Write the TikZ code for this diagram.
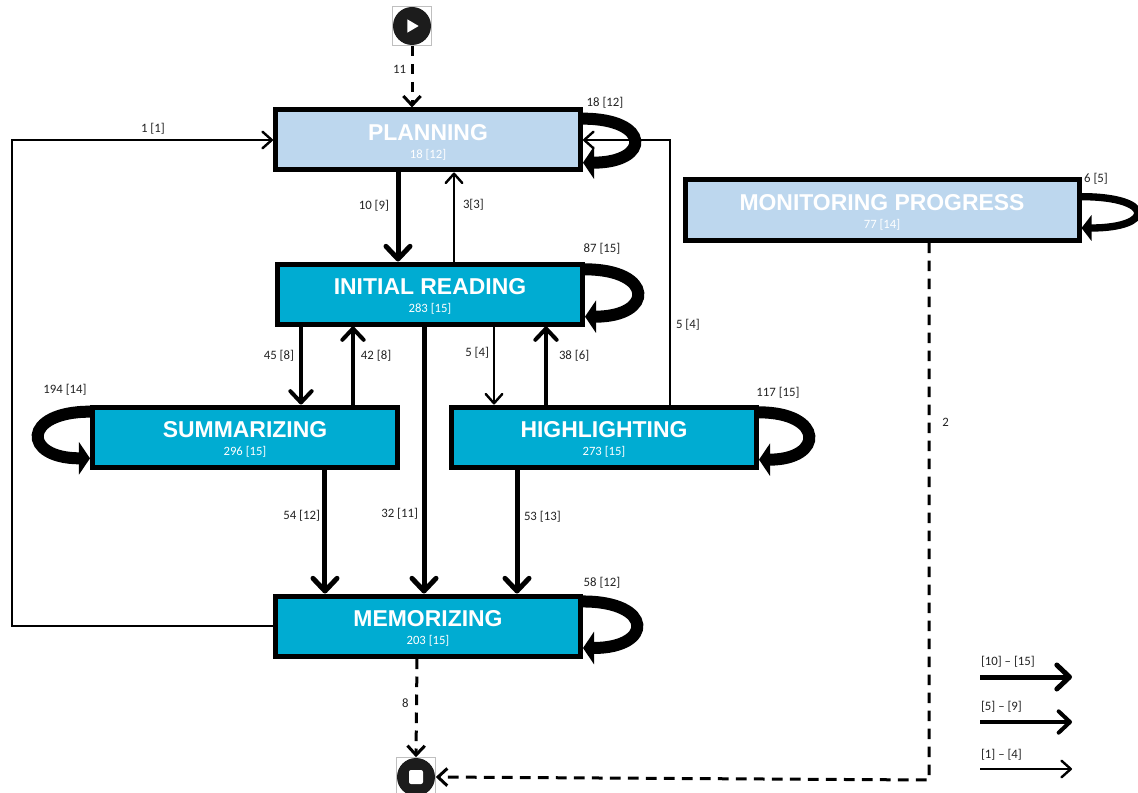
\documentclass[tikz,border=0pt]{standalone}
\usepackage{fontspec}
\setmainfont{Carlito}
\newfontfamily\titlefont{Liberation Sans}[Scale=1]
\usetikzlibrary{arrows.meta,positioning}

\definecolor{palebox}{HTML}{BDD7EE}
\definecolor{tealbox}{HTML}{00ACD2}
\definecolor{iconblack}{HTML}{1C1C1C}
\definecolor{labelgrey}{HTML}{222222}
\newcommand{\boxtext}[2]{\rule{0pt}{15.5pt}{\fontsize{17.2}{20}\titlefont\bfseries #1}\\[1.75pt]{\fontsize{9.5}{11}\selectfont #2}}

\tikzset{
  stage/.style={draw=black,line width=3.75pt,minimum width=228.75pt,minimum height=45pt,
    inner sep=0pt,align=center,text=white},
  teal stage/.style={stage,fill=tealbox},
  pale stage/.style={stage,fill=palebox},
  icon/.style={draw=black!25,line width=.4pt,minimum size=29.25pt,inner sep=0pt},
  flow label/.style={font=\fontsize{9.6}{11}\selectfont,text=labelgrey,inner sep=0pt,outer sep=0pt},
  thick flow/.style={line width=3.75pt,-{Straight Barb[length=9.5pt,width=18pt,round]}},
  mid flow/.style={line width=3pt,-{Straight Barb[length=8.5pt,width=16pt,round]}},
  thin flow/.style={line width=1.8pt,-{Straight Barb[length=7pt,width=12.5pt,round]}},
  dash flow/.style={line width=2.25pt,dash pattern=on 8pt off 5.5pt,-{Straight Barb[length=7pt,width=13pt]}},
  loop flow/.style={line width=9pt,-{Triangle[length=8.25pt,width=24pt]}},
  small loop/.style={line width=5.5pt,-{Triangle[length=7.5pt,width=19pt]}},
}

\begin{document}
\begin{tikzpicture}[x=.75pt,y=.75pt,on grid,node distance=50pt]
   \useasboundingbox (-321pt,105pt) rectangle (532.5pt,-489pt);
   \node[pale stage] (planning) {\boxtext{PLANNING}{18 [12]}};
   \node[teal stage] (initial) [below right=115.5pt and 1.5pt of planning] {\boxtext{INITIAL READING}{283 [15]}};
   \node[teal stage] (summarizing) [below left=107.25pt and 138.75pt of initial] {\boxtext{SUMMARIZING}{296 [15]}};
   \node[teal stage] (highlighting) [below right=107.25pt and 130.5pt of initial] {\boxtext{HIGHLIGHTING}{273 [15]}};
   \node[teal stage] (memorizing) [below=364.5pt of planning] {\boxtext{MEMORIZING}{203 [15]}};
   \node[pale stage,minimum width=295.5pt] (monitoring) [below right=52.5pt and 340.5pt of planning] {\boxtext{MONITORING PROGRESS}{77 [14]}};

   \node[icon] (start) [above left=85.5pt and 12pt of planning] {};
   \node[icon] (stop) [below left=113.25pt and 9pt of memorizing] {};
   \fill[iconblack] (start.center) circle (14.25pt);
   \fill[white] ([xshift=-3.5pt,yshift=5pt]start.center) -- ([xshift=5pt]start.center) -- ([xshift=-3.5pt,yshift=-5pt]start.center) -- cycle;
   \fill[iconblack] (stop.center) circle (14.25pt);
   \fill[white,rounded corners=1.5pt] ([xshift=-5.25pt,yshift=-5.25pt]stop.center) rectangle ([xshift=5.25pt,yshift=5.25pt]stop.center);

   \coordinate[left=195.75pt of memorizing.west] (leftrail);
   \coordinate[above=364.5pt of leftrail] (lefttop);
   \coordinate[right=65.25pt of planning.east] (righttop);
   \coordinate[below right=427.5pt and 35.25pt of monitoring] (stopcorner);

   % main flows
   \draw[thick flow] ([xshift=-22.5pt]planning.south) -- node[flow label,left=6.75pt,pos=.37] {10 [9]} ([xshift=-24pt]initial.north);
   \draw[thin flow] ([xshift=18pt]initial.north) -- node[flow label,right=6.75pt,pos=.64] {3[3]} ([xshift=19.5pt]planning.south);
   \draw[mid flow] ([xshift=-96.75pt]initial.south) -- node[flow label,left=5.25pt,pos=.38] {45 [8]} ([xshift=42pt]summarizing.north);
   \draw[mid flow] ([xshift=81pt]summarizing.north) -- node[flow label,right=6pt,pos=.62] {42 [8]} ([xshift=-57.75pt]initial.south);
   \draw[thick flow] ([xshift=-4.5pt]initial.south) -- node[flow label,left=4.5pt,pos=.7] {32 [11]} ([xshift=-3pt]memorizing.north);
   \draw[thin flow] ([xshift=48pt]initial.south) -- node[flow label,left=3.75pt,pos=.34] {5 [4]} ([xshift=-82.5pt]highlighting.north);
   \draw[mid flow] ([xshift=-43.5pt]highlighting.north) -- node[flow label,right=9.75pt,pos=.63] {38 [6]} ([xshift=87pt]initial.south);
   \draw[thick flow] ([xshift=60pt]summarizing.south) -- node[flow label,left=3.75pt,pos=.37] {54 [12]} ([xshift=-77.25pt]memorizing.north);
   \draw[thick flow] ([xshift=-65.25pt]highlighting.south) -- node[flow label,right=5.25pt,pos=.38] {53 [13]} ([xshift=66.75pt]memorizing.north);

   % long way round
   \draw[thin flow] (memorizing.west) -- (leftrail) -- (lefttop) -- node[flow label,above=4.5pt,pos=.54] {1 [1]} (planning.west);

   % start and end
   \draw[dash flow] (start.south) -- node[flow label,left=4.5pt,pos=.39] {11} ([xshift=-12pt]planning.north);
   \draw[dash flow] ([xshift=-8.25pt]memorizing.south) -- node[flow label,left=6pt,pos=.45] {8} (stop.north);
   \draw[dash flow] ([xshift=35.25pt]monitoring.south) -- node[flow label,right=10pt,pos=.335] {2} (stopcorner) -- (stop.east);

   % loops
   \draw[loop flow] ([yshift=16pt]planning.east) .. controls +(51pt,0pt) and +(51pt,0pt) .. ([yshift=-17pt]planning.east);
   \draw[loop flow] ([yshift=18.5pt]initial.east) .. controls +(52pt,0pt) and +(52pt,0pt) .. ([yshift=-17pt]initial.east);
   \draw[loop flow] ([yshift=18.5pt]highlighting.east) .. controls +(49pt,0pt) and +(49pt,0pt) .. ([yshift=-17pt]highlighting.east);
   \draw[loop flow] ([yshift=18.4pt]memorizing.east) .. controls +(53pt,0pt) and +(53pt,0pt) .. ([yshift=-16.5pt]memorizing.east);
   \draw[loop flow] ([yshift=19pt]summarizing.west) .. controls +(-51pt,0pt) and +(-51pt,0pt) .. ([yshift=-16pt]summarizing.west);
   \draw[small loop] ([yshift=10pt]monitoring.east) .. controls +(55pt,0pt) and +(55pt,0pt) .. ([yshift=-13.5pt]monitoring.east);

   % drawn after the loop so it stays on top
   \draw[thin flow] ([xshift=49.5pt]highlighting.north) -- node[flow label,right=4.5pt,pos=.3] {5 [4]} (righttop) -- (planning.east);

   \node[flow label] (planningcount) [above right=27.75pt and 132.75pt of planning] {18 [12]};
   \node[flow label] (initialcount) [above right=33.75pt and 129pt of initial] {87 [15]};
   \node[flow label] (highlightingcount) [above right=33pt and 130.5pt of highlighting] {117 [15]};
   \node[flow label] (summarizingcount) [above left=35.25pt and 135pt of summarizing] {194 [14]};
   \node[flow label] (memorizingcount) [above right=32.25pt and 130.5pt of memorizing] {58 [12]};
   \node[flow label] (monitoringcount) [above right=23.25pt and 160.5pt of monitoring] {6 [5]};

   % legend
   \coordinate[below right=38.25pt and 414pt of memorizing] (keyhigh);
   \coordinate[below=33.75pt of keyhigh] (keymid);
   \coordinate[below=35.25pt of keymid] (keylow);
   \coordinate[right=69pt of keyhigh] (keyhighend);
   \coordinate[right=69pt of keymid] (keymidend);
   \coordinate[right=69pt of keylow] (keylowend);
   \draw[thick flow] (keyhigh) -- (keyhighend);
   \draw[mid flow] (keymid) -- (keymidend);
   \draw[thin flow] (keylow) -- (keylowend);
   \node[flow label] (keyhightext) [above right=7.5pt and .75pt of keyhigh] {[10] -- [15]};
   \node[flow label] (keymidtext) [above right=7.5pt and .75pt of keymid] {[5] -- [9]};
   \node[flow label] (keylowtext) [above right=6.75pt and .75pt of keylow] {[1] -- [4]};
\end{tikzpicture}
\end{document}
